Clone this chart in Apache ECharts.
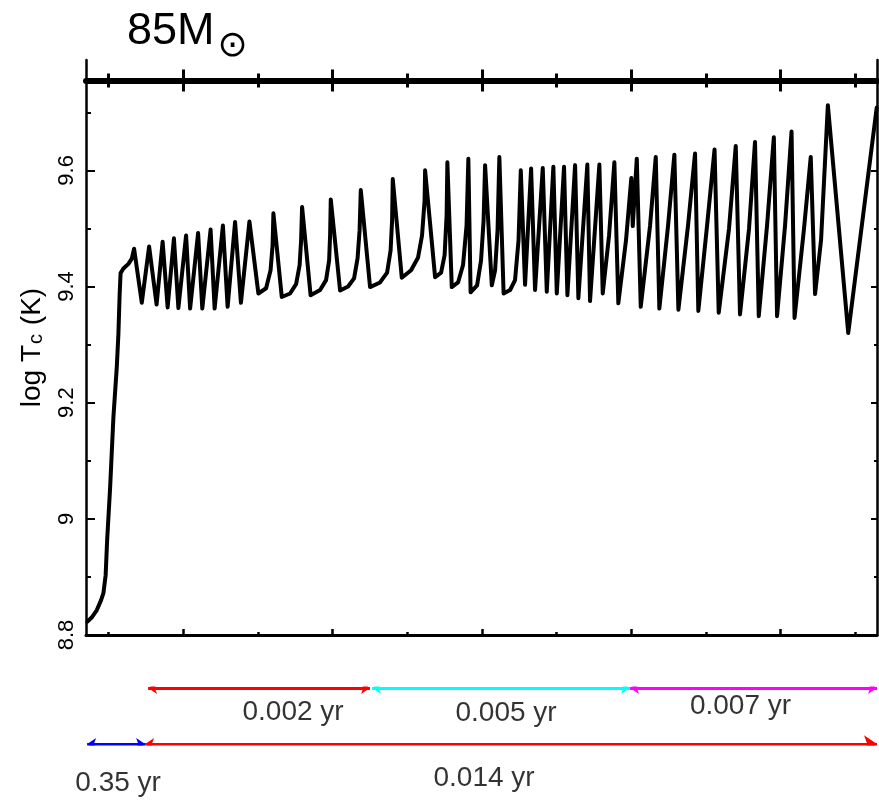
<!DOCTYPE html>
<html><head><meta charset="utf-8">
<script src="https://cdn.jsdelivr.net/npm/echarts@6/dist/echarts.min.js"></script>
<style>html,body{margin:0;padding:0;background:#fff}#c{width:879px;height:800px}</style>
</head><body><div id="c"></div>
<script>
// ---------------- data ----------------
// time coordinate (arbitrary, one unit per tick) and central temperature log Tc (K)
const timeX = [
  -0.281,-0.218,-0.155,-0.098,-0.067,-0.037,-0.017,0.023,0.067,0.112,0.134,0.150,0.163,0.201,0.268,0.313,0.344,
  0.447,0.545,0.645,0.726,0.793,0.877,0.937,1.040,1.094,1.201,1.257,1.368,1.422,1.533,1.596,1.696,1.774,1.888,2.008,
  2.111,2.171,2.198,2.209,2.321,2.432,2.513,2.560,2.580,2.593,2.707,2.834,2.914,2.955,2.968,2.977,
  3.102,3.209,3.289,3.336,3.363,3.379,3.503,3.637,3.731,3.778,3.798,3.807,
  3.928,4.052,4.146,4.199,4.233,4.240,4.374,4.454,4.501,4.528,4.538,
  4.597,4.681,4.748,4.795,4.819,4.849,4.936,4.989,5.023,5.043,5.133,5.177,5.210,5.234,
  5.291,5.378,5.444,5.491,5.521,5.578,5.659,5.712,5.815,5.869,5.957,6.003,6.100,6.145,6.248,6.292,6.412,6.448,6.573,
  6.618,6.703,6.774,6.827,
  6.930,7.001,7.020,7.074,7.127,7.252,7.328,7.376,7.493,7.577,7.631,7.760,7.854,7.898,8.015,8.115,8.171,8.309,8.399,
  8.456,8.577,8.657,8.707,8.818,8.909,8.952,9.059,9.146,9.186,9.313,9.403,9.461,9.541,9.632,9.905,10.286
];
const logTc = [
  8.823,8.831,8.843,8.860,8.872,8.903,8.963,9.054,9.175,9.261,9.319,9.385,9.423,9.431,9.439,9.448,9.465,
  9.372,9.469,9.369,9.477,9.364,9.483,9.363,9.488,9.362,9.492,9.362,9.498,9.362,9.505,9.365,9.511,9.372,9.512,9.388,
  9.397,9.428,9.471,9.526,9.382,9.388,9.404,9.437,9.480,9.537,9.385,9.394,9.411,9.445,9.488,9.550,
  9.393,9.400,9.414,9.449,9.497,9.566,9.399,9.407,9.424,9.462,9.514,9.585,
  9.415,9.428,9.450,9.488,9.548,9.600,9.416,9.424,9.454,9.523,9.614,
  9.399,9.407,9.437,9.505,9.620,9.390,9.402,9.445,9.514,9.609,9.402,9.428,9.497,9.623,
  9.388,9.394,9.411,9.480,9.600,9.403,9.603,9.394,9.604,9.391,9.606,9.388,9.606,9.385,9.609,9.380,9.610,9.375,9.610,
  9.388,9.488,9.614,9.371,
  9.480,9.587,9.504,9.620,9.365,9.505,9.623,9.362,9.505,9.627,9.360,9.505,9.629,9.358,9.505,9.636,9.355,9.500,9.642,
  9.352,9.500,9.649,9.349,9.505,9.657,9.349,9.505,9.667,9.346,9.500,9.623,9.387,9.480,9.712,9.320,9.708
];
const xMajorTicks = [1, 3, 5, 7, 9];
const xMinorTicks = [0, 2, 4, 6, 8, 10];
const yMajorTicks = [8.8, 9, 9.2, 9.4, 9.6];
const yMinorTicks = [8.9, 9.1, 9.3, 9.5, 9.7];
const yTickLabels = ['8.8', '9', '9.2', '9.4', '9.6'];
const titleText = '85M';
const titleSymbol = '⊙';
const yName = 'log T';
const yNameSub = 'c';
const yNameUnit = ' (K)';
// duration spans (time coordinate of start / end, row 1 = upper, 0 = lower)
const spanLabels = ['0.002 yr', '0.005 yr', '0.007 yr', '0.35 yr', '0.014 yr'];
const spanStart  = [0.531, 3.530, 6.984, -0.285, 0.491];
const spanEnd    = [3.503, 6.984, 10.29, 0.491, 10.29];
const spanRow    = [1, 1, 1, 0, 0];

// ---------------- style ----------------
const X0 = -0.3, X1 = 10.29, Y0 = 8.8, Y1 = 9.79;
const spanColors = ['#ff0000', '#00ffff', '#ff00ff', '#0000ff', '#ff0000'];
const spanLabelOffset = [[34, 24], [5, 25], [-13, 18], [2, 39], [-27, 34]];
const spanArrowSize = [[9, 9], [9, 9], [9, 9], [9, 9], [9, 13]];
const FONT = 'Liberation Sans';
const gridRect = {left: 86, top: 60, width: 791, height: 575, outerBoundsMode: 'none'};
const black = '#000';

const hiddenX = (g) => ({gridIndex: g, type: 'value', min: X0, max: X1, show: false});
function tickX(g, pos, ticks, len, width, offset, showLine, lineWidth) {
  return {
    gridIndex: g, type: 'value', min: X0, max: X1, position: pos, offset: offset || 0,
    axisLine: {show: !!showLine, onZero: false, lineStyle: {color: black, width: lineWidth || 3}},
    axisTick: ticks ? {show: true, inside: true, length: len, customValues: ticks, lineStyle: {color: black, width: width}} : {show: false},
    axisLabel: {show: false}, splitLine: {show: false}, minorTick: {show: false}
  };
}
function tickY(g, pos, ticks, len, showLine) {
  return {
    gridIndex: g, type: 'value', min: Y0, max: Y1, position: pos,
    axisLine: {show: !!showLine, onZero: false, lineStyle: {color: black, width: 2.5}},
    axisTick: {show: true, inside: true, length: len, customValues: ticks, lineStyle: {color: black, width: 2}},
    axisLabel: {show: false}, splitLine: {show: false}
  };
}

const yMain = tickY(0, 'left', yMajorTicks, 9, true);
yMain.axisLabel = {
  show: true, customValues: yMajorTicks, rotate: 90, margin: 8,
  fontFamily: FONT, fontSize: 22, color: black,
  formatter: (v) => { const i = yMajorTicks.findIndex(t => Math.abs(t - v) < 1e-6); return i >= 0 ? yTickLabels[i] : ''; }
};
yMain.name = yName + '{sub|' + yNameSub + '}' + yNameUnit;
yMain.nameLocation = 'middle';
yMain.nameGap = 40;
yMain.nameRotate = 90;
yMain.nameTextStyle = {fontFamily: FONT, fontSize: 28, color: black,
  rich: {sub: {fontFamily: FONT, fontSize: 20, color: black, padding: [8, 1, 0, 1]}}};

const option = {
  animation: false,
  backgroundColor: '#fff',
  title: {
    text: titleText + '{s|' + titleSymbol + '}', left: 122, top: -7,
    textStyle: {fontFamily: FONT, fontSize: 45, fontWeight: 'normal', color: black,
      rich: {s: {fontFamily: 'DejaVu Sans', fontSize: 36, color: black, padding: [31, 0, 0, 3]}}}
  },
  grid: [
    Object.assign({}, gridRect),
    Object.assign({}, gridRect),
    Object.assign({}, gridRect),
    {left: 86, top: 688, width: 791, height: 56, outerBoundsMode: 'none'}
  ],
  xAxis: [
    tickX(0, 'bottom', xMajorTicks, 6, 2.5, 0, true, 3),     // 0 bottom line + major ticks
    tickX(0, 'top', null, 0, 0, -20.5, true, 6),             // 1 thick top line
    tickX(1, 'bottom', xMinorTicks, 3, 2.5, 0, false),       // 2 bottom minor ticks
    tickX(1, 'top', xMajorTicks, 22, 3, -9.5, false),        // 3 top major ticks
    tickX(2, 'top', xMinorTicks, 14, 3, -13.5, false),       // 4 top minor ticks
    hiddenX(3)                                               // 5 spans
  ],
  yAxis: [
    yMain,                                   // 0
    tickY(0, 'right', yMajorTicks, 6, true), // 1
    tickY(1, 'left', yMinorTicks, 5, false), // 2
    tickY(1, 'right', yMinorTicks, 3, false),// 3
    {gridIndex: 2, type: 'value', min: Y0, max: Y1, show: false}, // 4
    {gridIndex: 3, type: 'value', min: 0, max: 1, show: false}    // 5
  ],
  series: [
    {
      type: 'line', xAxisIndex: 0, yAxisIndex: 0,
      data: timeX.map((x, i) => [x, logTc[i]]),
      symbol: 'none', showSymbol: false, smooth: false, z: 5,
      lineStyle: {color: black, width: 4, join: 'round', cap: 'round'}
    },
    {
      type: 'lines', coordinateSystem: 'cartesian2d', xAxisIndex: 5, yAxisIndex: 5,
      symbol: ['arrow', 'arrow'],
      data: spanLabels.map((l, i) => ({
        coords: [[spanStart[i], spanRow[i]], [spanEnd[i], spanRow[i]]],
        symbolSize: spanArrowSize[i],
        lineStyle: {color: spanColors[i], width: 3, opacity: 1}
      })),
      lineStyle: {width: 3, opacity: 1, curveness: 0}
    },
    {
      type: 'scatter', xAxisIndex: 5, yAxisIndex: 5, symbolSize: 0, silent: true,
      data: spanLabels.map((l, i) => ({
        name: l, value: [(spanStart[i] + spanEnd[i]) / 2, spanRow[i]],
        label: {offset: spanLabelOffset[i]}
      })),
      label: {show: true, position: 'inside', formatter: '{b}', fontFamily: FONT, fontSize: 28, color: black}
    }
  ]
};
const chart = echarts.init(document.getElementById('c'), null, {renderer: 'canvas'});
chart.setOption(option);
</script>
</body></html>
